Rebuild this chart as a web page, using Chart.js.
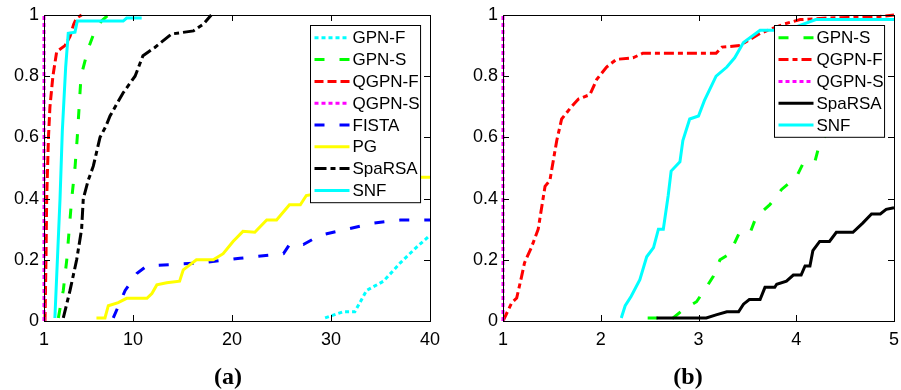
<!DOCTYPE html>
<html>
<head>
<meta charset="utf-8">
<script src="https://cdn.jsdelivr.net/npm/chart.js@4"></script>
<style>
  html, body { margin: 0; padding: 0; background: #fff; }
  #wrap { position: relative; width: 901px; height: 390px; overflow: hidden; }
  .panel { position: absolute; top: 0; height: 390px; }
  #pa { left: 0; width: 450px; }
  #pb { left: 450px; width: 451px; }
  .cap { position: absolute; top: 363px; line-height: 24px; font: bold 24px "Liberation Serif", "Times New Roman", serif; color: #000; transform: translateX(-50%); }
</style>
</head>
<body>
<div id="wrap">
  <div class="panel" id="pa"><canvas id="ca"></canvas></div>
  <div class="panel" id="pb"><canvas id="cb"></canvas></div>
  <div class="cap" style="left:228px">(a)</div>
  <div class="cap" style="left:688px">(b)</div>
</div>
<script>
// tick labels
const xTicksA = [1, 10, 20, 30, 40]
const xTicksB = [1, 2, 3, 4, 5]
const yTicks = [0, 0.2, 0.4, 0.6, 0.8, 1]

// panel (a) series, [tau, fraction]
const namesA = ['GPN-F', 'GPN-S', 'QGPN-F', 'QGPN-S', 'FISTA', 'PG', 'SpaRSA', 'SNF']
const aGpnF = [[29.4, 0.01], [31.2, 0.03], [32.4, 0.03], [33.6, 0.10], [35.3, 0.13], [37.0, 0.19], [38.6, 0.24], [40, 0.28]]
const aGpnS = [[2.45, 0.01], [2.95, 0.1], [3.3, 0.2], [3.8, 0.4], [4.13, 0.5], [4.36, 0.6], [4.74, 0.8], [5.47, 0.89], [6.15, 0.95], [6.8, 0.98], [7.5, 1]]
const aQgpnF = [[1.1, 0], [1.2, 0.2], [1.27, 0.4], [1.45, 0.6], [1.6, 0.7], [1.9, 0.8], [2.28, 0.88], [3.12, 0.9], [3.63, 0.93], [4.0, 0.97], [4.3, 0.99], [4.8, 1]]
const aQgpnS = [[1, 0], [1, 1]]
const aFista = [[8.0, 0.01], [9.2, 0.10], [10.4, 0.156], [11.4, 0.18], [16.8, 0.19], [20.8, 0.205], [25.2, 0.22], [25.8, 0.25], [27.2, 0.25], [28.9, 0.28], [31.6, 0.30], [34.3, 0.32], [37.0, 0.33], [40, 0.33]]
const aPg = [[6.3, 0.01], [7.16, 0.01], [7.5, 0.05], [8.5, 0.06], [9.35, 0.074], [11.4, 0.074], [11.9, 0.09], [12.4, 0.118], [13.4, 0.125], [14.7, 0.13], [15.07, 0.167], [15.6, 0.18], [16.4, 0.2], [18.1, 0.2], [19.1, 0.22], [20.1, 0.26], [21.1, 0.293], [22.3, 0.29], [23.5, 0.33], [24.5, 0.33], [25.8, 0.38], [26.9, 0.38], [27.5, 0.41], [31, 0.43], [35, 0.46], [38.5, 0.47], [40, 0.47]]
const aSparsa = [[2.95, 0.01], [3.63, 0.1], [4.3, 0.2], [4.8, 0.3], [4.97, 0.4], [5.47, 0.46], [5.98, 0.506], [6.66, 0.6], [7.26, 0.637], [7.67, 0.67], [9.0, 0.746], [10.2, 0.8], [11.0, 0.867], [12.2, 0.894], [13.9, 0.938], [16.1, 0.948], [17.1, 0.97], [17.9, 1]]
const aSnf = [[2.1, 0.01], [2.62, 0.4], [2.85, 0.62], [3.19, 0.83], [3.45, 0.94], [4.13, 0.944], [4.36, 0.98], [9.0, 0.98], [9.35, 0.99], [10.87, 0.99]]

// panel (b) series
const namesB = ['GPN-S', 'QGPN-F', 'QGPN-S', 'SpaRSA', 'SNF']
const bGpnS = [[2.48, 0.01], [2.74, 0.01], [2.84, 0.036], [2.98, 0.063], [3.08, 0.11], [3.15, 0.145], [3.22, 0.20], [3.32, 0.22], [3.42, 0.29], [3.53, 0.29], [3.59, 0.34], [3.73, 0.38], [3.85, 0.43], [4.0, 0.47], [4.07, 0.515], [4.19, 0.52], [4.24, 0.58], [4.31, 0.61], [4.6, 0.72], [4.96, 0.81], [5, 0.815]]
const bQgpnF = [[1, 0], [1.09, 0.06], [1.14, 0.075], [1.19, 0.145], [1.22, 0.19], [1.29, 0.24], [1.36, 0.30], [1.43, 0.44], [1.48, 0.46], [1.55, 0.59], [1.60, 0.66], [1.70, 0.70], [1.77, 0.725], [1.89, 0.74], [1.96, 0.79], [2.06, 0.83], [2.16, 0.855], [2.33, 0.86], [2.43, 0.875], [3.18, 0.875], [3.24, 0.895], [3.42, 0.90], [3.63, 0.94], [3.87, 0.97], [4.04, 0.985], [4.31, 0.99], [4.85, 0.995], [5, 1]]
const bQgpnS = [[1, 0], [1, 1]]
const bSparsa = [[2.57, 0.01], [3.08, 0.01], [3.18, 0.02], [3.29, 0.03], [3.41, 0.03], [3.46, 0.055], [3.52, 0.07], [3.63, 0.07], [3.68, 0.11], [3.78, 0.11], [3.80, 0.12], [3.9, 0.13], [3.97, 0.15], [4.05, 0.15], [4.09, 0.18], [4.14, 0.18], [4.17, 0.23], [4.24, 0.26], [4.34, 0.26], [4.41, 0.29], [4.58, 0.29], [4.68, 0.32], [4.77, 0.35], [4.86, 0.35], [4.92, 0.365], [5, 0.37]]
const bSnf = [[2.21, 0.01], [2.25, 0.05], [2.31, 0.08], [2.40, 0.135], [2.47, 0.21], [2.54, 0.24], [2.59, 0.30], [2.64, 0.30], [2.69, 0.41], [2.72, 0.49], [2.81, 0.52], [2.84, 0.59], [2.91, 0.66], [3.0, 0.67], [3.06, 0.72], [3.18, 0.80], [3.29, 0.83], [3.37, 0.86], [3.46, 0.91], [3.63, 0.95], [3.9, 0.95], [4.2, 0.985], [5, 0.985]]

const seriesA = [aGpnF, aGpnS, aQgpnF, aQgpnS, aFista, aPg, aSparsa, aSnf]
const seriesB = [bGpnS, bQgpnF, bQgpnS, bSparsa, bSnf]

// line styles
const stylesA = [
  { color: '#00ffff', dash: [4, 3] },
  { color: '#00ff00', dash: [10, 15] },
  { color: '#ff0000', dash: [9, 4] },
  { color: '#ff00ff', dash: [4, 3] },
  { color: '#0000ff', dash: [10, 15] },
  { color: '#ffff00', dash: [] },
  { color: '#000000', dash: [12, 4, 5, 4] },
  { color: '#00ffff', dash: [] }
]
const stylesB = [
  { color: '#00ff00', dash: [10, 15] },
  { color: '#ff0000', dash: [10, 4, 5, 4] },
  { color: '#ff00ff', dash: [4, 3] },
  { color: '#000000', dash: [] },
  { color: '#00ffff', dash: [] }
]

const FONT = '"Liberation Sans", Arial, sans-serif'

const frame = {
  id: 'frame',
  afterDraw(chart) {
    const { ctx, chartArea: a, scales: { x, y } } = chart
    ctx.save()
    ctx.strokeStyle = '#000'
    ctx.lineWidth = 1
    ctx.setLineDash([])
    ctx.beginPath()
    x.ticks.forEach((t) => {
      const px = Math.round(x.getPixelForValue(t.value)) + 0.5
      ctx.moveTo(px, a.bottom); ctx.lineTo(px, a.bottom - 6)
      ctx.moveTo(px, a.top); ctx.lineTo(px, a.top + 6)
    })
    y.ticks.forEach((t) => {
      const py = Math.round(y.getPixelForValue(t.value)) + 0.5
      ctx.moveTo(a.left, py); ctx.lineTo(a.left + 6, py)
      ctx.moveTo(a.right, py); ctx.lineTo(a.right - 6, py)
    })
    ctx.stroke()
    ctx.strokeRect(Math.round(a.left) + 0.5, Math.round(a.top) + 0.5, Math.round(a.width), Math.round(a.height))

    // legend box
    const sets = chart.data.datasets
    ctx.font = '17px ' + FONT
    const maxW = Math.max(...sets.map(d => ctx.measureText(d.label).width))
    const w = 42 + maxW + 1
    const step = 21.8
    const h = 24.6 + (sets.length - 1) * step
    const bx = Math.round(a.right - 9.5 - w) + 0.5
    const by = Math.round(a.top + 9.5) + 0.5
    ctx.fillStyle = '#fff'
    ctx.fillRect(bx, by, w, h)
    ctx.strokeRect(bx, by, w, h)
    sets.forEach((d, i) => {
      const cy = by + 12.3 + i * step
      ctx.beginPath()
      ctx.strokeStyle = d.borderColor
      ctx.lineWidth = 3
      ctx.setLineDash(d.borderDash)
      ctx.moveTo(bx + 4, cy); ctx.lineTo(bx + 39, cy)
      ctx.stroke()
      ctx.setLineDash([])
      ctx.fillStyle = '#000'
      ctx.textBaseline = 'middle'
      ctx.textAlign = 'left'
      ctx.fillText(d.label, bx + 42, cy + 1)
    })
    ctx.restore()
  }
}

function makeChart(canvasId, names, series, styles, xTicks, yWidth, padRight) {
  const n = names.length
  new Chart(document.getElementById(canvasId), {
    type: 'line',
    data: {
      datasets: names.map((name, i) => ({
        label: name,
        data: series[i].map(([x, y]) => ({ x, y })),
        borderColor: styles[i].color,
        borderDash: styles[i].dash,
        borderWidth: 3,
        borderCapStyle: 'butt',
        pointRadius: 0,
        tension: 0,
        fill: false,
        clip: 5,
        order: n - i
      }))
    },
    options: {
      responsive: true,
      maintainAspectRatio: false,
      animation: false,
      layout: { padding: { top: 15, right: padRight, bottom: 0, left: 0 } },
      plugins: {
        legend: { display: false },
        tooltip: { enabled: false }
      },
      scales: {
        x: {
          type: 'linear',
          min: xTicks[0],
          max: xTicks[xTicks.length - 1],
          afterBuildTicks: (s) => { s.ticks = xTicks.map(v => ({ value: v })) },
          afterFit: (s) => {
            s.height = 69
            s.paddingLeft = 0
            s.paddingRight = 0
          },
          grid: { display: false, drawTicks: false },
          border: { display: false },
          ticks: {
            autoSkip: false,
            maxRotation: 0,
            padding: 8,
            color: '#000',
            font: { family: FONT, size: 18 },
            callback: v => String(v)
          }
        },
        y: {
          type: 'linear',
          min: 0,
          max: 1,
          afterBuildTicks: (s) => { s.ticks = yTicks.map(v => ({ value: v })) },
          afterFit: (s) => {
            s.width = yWidth
            s.paddingTop = 0
            s.paddingBottom = 0
          },
          grid: { display: false, drawTicks: false },
          border: { display: false },
          ticks: {
            autoSkip: false,
            padding: 5,
            color: '#000',
            font: { family: FONT, size: 18 },
            callback: v => String(+Number(v).toFixed(1))
          }
        }
      }
    },
    plugins: [frame]
  })
}

makeChart('ca', namesA, seriesA, stylesA, xTicksA, 44, 20)
makeChart('cb', namesB, seriesB, stylesB, xTicksB, 53, 7)
</script>
</body>
</html>
